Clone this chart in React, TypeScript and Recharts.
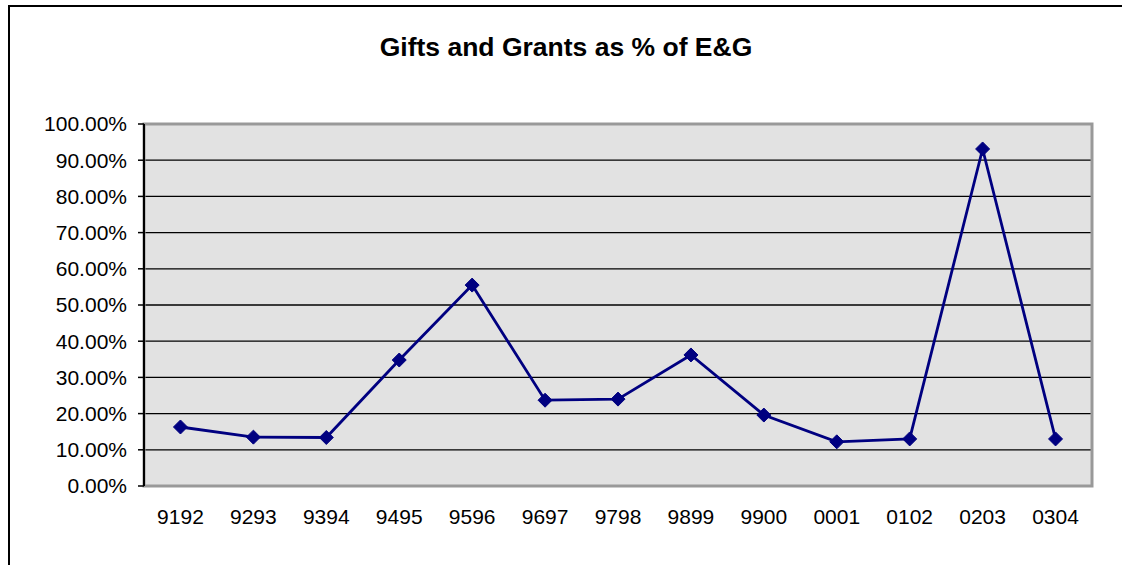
import React from "react";
import { LineChart, Line, XAxis, YAxis, CartesianGrid, ReferenceArea } from "recharts";

const categories = ["9192", "9293", "9394", "9495", "9596", "9697", "9798", "9899", "9900", "0001", "0102", "0203", "0304"];
const values = [16.3, 13.5, 13.4, 34.8, 55.5, 23.7, 24.0, 36.2, 19.6, 12.2, 13.0, 93.1, 13.0];
const yTicks = [0, 10, 20, 30, 40, 50, 60, 70, 80, 90, 100];
const boundaryTicks = [0, 1, 2, 3, 4, 5, 6, 7, 8, 9, 10, 11, 12, 13];
const labelTicks = categories.map((_, i) => i + 0.5);
const title = "Gifts and Grants as % of E&G";

const data = categories.map((c, i) => ({ x: i + 0.5, name: c, value: values[i] }));

const Diamond = (props: any) => {
  const { cx, cy } = props;
  if (cx == null || cy == null) return null;
  const r = 7;
  return (
    <path
      d={`M${cx},${cy - r} L${cx + r},${cy} L${cx},${cy + r} L${cx - r},${cy} Z`}
      fill="#000080"
      stroke="#000080"
      strokeWidth={1}
    />
  );
};

const font = "Arial, 'Liberation Sans', sans-serif";

export default function App() {
  return (
    <div style={{ position: "fixed", left: 0, top: 0, width: 1122, height: 565, background: "#fff" }}>
      <div
        style={{
          position: "absolute",
          left: 8,
          top: 5,
          width: 1130,
          height: 600,
          borderLeft: "2px solid #000",
          borderTop: "2px solid #000",
        }}
      />
      <div
        style={{
          position: "absolute",
          left: 0,
          top: 32,
          width: 1132,
          textAlign: "center",
          fontFamily: font,
          fontWeight: "bold",
          fontSize: 26.5,
          color: "#000",
        }}
      >
        {title}
      </div>
      <div style={{ position: "absolute", left: 0, top: 0 }}>
        <LineChart
          width={1122}
          height={565}
          data={data}
          margin={{ top: 124, right: 30, bottom: 39, left: 44 }}
        >
          <CartesianGrid
            xAxisId="lab"
            vertical={false}
            fill="#e2e2e2"
            fillOpacity={1}
            stroke="#000"
            strokeWidth={1.3}
          />
          <ReferenceArea xAxisId="lab" y1={0} y2={100} fill="none" stroke="#999" strokeWidth={3} />
          <XAxis
            xAxisId="lab"
            dataKey="x"
            type="number"
            domain={[0, 13]}
            ticks={labelTicks}
            tickFormatter={(v: number) => categories[Math.floor(v)]}
            axisLine={false}
            tickLine={false}
            height={40}
            tickMargin={17}
            interval={0}
            tick={{ fill: "#000", fontSize: 21, fontFamily: font }}
          />
          <XAxis
            dataKey="x"
            type="number"
            domain={[0, 13]}
            ticks={boundaryTicks}
            tickFormatter={() => ""}
            axisLine={{ stroke: "#000", strokeWidth: 2 }}
            tickLine={{ stroke: "#000", strokeWidth: 1.5 }}
            tickSize={6}
            height={0}
            interval={0}
          />
          <YAxis
            domain={[0, 100]}
            ticks={yTicks}
            interval={0}
            width={100}
            tickFormatter={(v: number) => `${v.toFixed(2)}%`}
            axisLine={{ stroke: "#000", strokeWidth: 2 }}
            tickLine={{ stroke: "#000", strokeWidth: 1.5 }}
            tickSize={6}
            tickMargin={11}
            tick={{ fill: "#000", fontSize: 21, fontFamily: font }}
          />
          <Line
            xAxisId="lab"
            dataKey="value"
            stroke="#000080"
            strokeWidth={2.8}
            dot={<Diamond />}
            activeDot={false}
            isAnimationActive={false}
          />
        </LineChart>
      </div>
    </div>
  );
}
